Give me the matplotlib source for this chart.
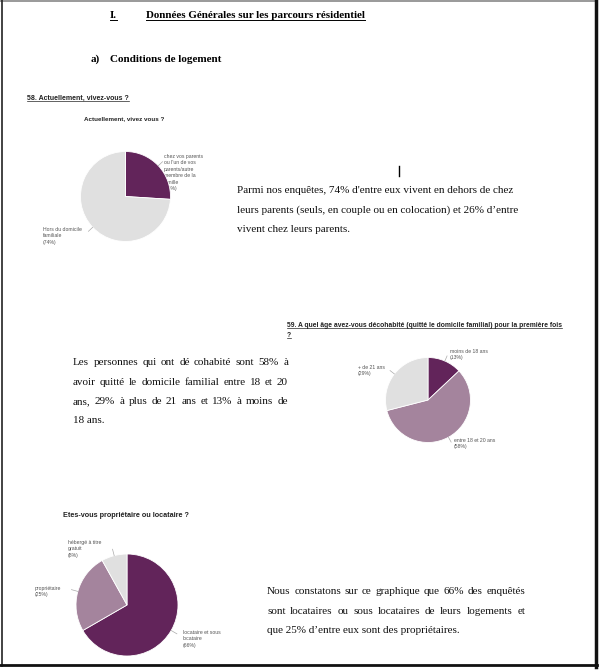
import matplotlib
matplotlib.use('Agg')
import matplotlib.pyplot as plt
import numpy as np
from matplotlib.lines import Line2D

W, H = 599, 671

# ---------------- data ----------------
q58_labels = ["chez vos parents\nou l'un de vos\nparents/autre\nmembre de la\nfamille",
              "Hors du domicile\nfamiliale"]
q58_values = [26, 74]

q59_labels = ["moins de 18 ans", "entre 18 et 20 ans", "+ de 21 ans"]
q59_values = [13, 58, 29]

q60_labels = ["locataire et sous\nlocataire", "propriétaire", "hébergé à titre\ngratuit"]
q60_values = [66, 25, 8]

DARK = '#62245a'
MAUVE = '#a4849d'
LIGHT = '#e0e0e0'
LBL = '#555555'
SERIF = 'Liberation Serif'
SANS = 'Liberation Sans'
BODY = 8.0

fig = plt.figure(figsize=(W / 100, H / 100), dpi=100)
fig.patch.set_facecolor('white')
renderer = fig.canvas.get_renderer()


def fx(x):
    return x / W


def fy(y):
    return 1 - y / H


def line_px(x0, y0, x1, y1, **kw):
    fig.add_artist(Line2D([fx(x0), fx(x1)], [fy(y0), fy(y1)], transform=fig.transFigure, **kw))


def text_px(x, y, s, underline=False, ul_off=2.0, ul_lw=0.7, **kw):
    kw.setdefault('va', 'baseline')
    t = fig.text(fx(x), fy(y), s, **kw)
    if underline:
        bb = t.get_window_extent(renderer)
        yb = y + ul_off
        line_px(bb.x0, yb, bb.x1, yb, color=kw.get('color', 'black'), lw=ul_lw)
    return t


def justified(x, y, width, line, **kw):
    words = line.split(' ')
    texts = [fig.text(0, 0, w, va='baseline', **kw) for w in words]
    widths = [t.get_window_extent(renderer).width for t in texts]
    gap = (width - sum(widths)) / (len(words) - 1)
    cx = x
    for t, w in zip(texts, widths):
        t.set_position((fx(cx), fy(y)))
        cx += w + gap


def pie(cx, cy, r, values, colors, labels, label_pos):
    ax = fig.add_axes([fx(cx - r), fy(cy + r), 2 * r / W, 2 * r / H])
    ax.set_zorder(1)
    wedges, _ = ax.pie(values, colors=colors, startangle=90, counterclock=False, radius=1,
                       wedgeprops=dict(linewidth=0.6, edgecolor='white'))
    ax.set_xlim(-1, 1)
    ax.set_ylim(-1, 1)
    ax.set_aspect('equal')
    ax.axis('off')
    for w, lab, v, (lx, ly) in zip(wedges, labels, values, label_pos):
        ang = np.deg2rad((w.theta1 + w.theta2) / 2)
        c, s = np.cos(ang), np.sin(ang)
        ax.plot([c * 1.0, c * 1.13], [s * 1.0, s * 1.13], color='#aaaaaa', lw=0.5, clip_on=False)
        fig.text(fx(lx), fy(ly), f"{lab}\n({v}%)", ha='left', va='top', fontsize=3.7,
                 color=LBL, family=SANS, linespacing=1.35, zorder=0.5)
    return ax


# ---------------- page frame ----------------
line_px(0, 1.2, 597, 1.2, color='#888888', lw=1.2)
line_px(1.5, 0, 1.5, 666, color='#222222', lw=1.2)
line_px(595.5, 0, 595.5, 667, color='#111111', lw=2.5)
line_px(0, 665, 597, 665, color='#111111', lw=2.0)

# ---------------- headings ----------------
text_px(110, 18, "I.", underline=True, ul_off=1.5, fontsize=7.9, weight='bold', family=SERIF)
text_px(146, 18, "Données Générales sur les parcours résidentiel", underline=True, ul_off=1.5,
        fontsize=7.9, weight='bold', family=SERIF)
text_px(91, 62, "a)", fontsize=8.0, weight='bold', family=SERIF)
text_px(110, 62, "Conditions de logement", fontsize=8.0, weight='bold', family=SERIF)

# ---------------- Q58 ----------------
text_px(27, 100, "58. Actuellement, vivez-vous ?", underline=True, ul_off=1.3, ul_lw=0.5,
        fontsize=5.0, weight='bold', family=SANS, color='#222222')
text_px(124, 120, "Actuellement, vivez vous ?", ha='center', fontsize=4.5, weight='bold',
        family=SANS, color='#222222')
pie(125.5, 196.5, 45, q58_values, [DARK, LIGHT], q58_labels,
    [(164, 154), (43, 227)])

line_px(398.5, 166, 398.5, 176, color='black', lw=1.0)

text_px(237, 193, "Parmi nos enquêtes, 74% d'entre eux vivent en dehors de chez", fontsize=BODY,
        family=SERIF, color='#111111')
text_px(237, 213, "leurs parents (seuls, en couple ou en colocation) et 26% d’entre", fontsize=BODY,
        family=SERIF, color='#111111')
text_px(237, 232, "vivent chez leurs parents.", fontsize=BODY, family=SERIF, color='#111111')

# ---------------- Q59 ----------------
text_px(287, 327, "59. A quel âge avez-vous décohabité (quitté le domicile familial) pour la première fois",
        underline=True, ul_off=1.3, ul_lw=0.5, fontsize=4.9, weight='bold', family=SANS, color='#222222')
text_px(287, 337, "?", underline=True, ul_off=1.3, ul_lw=0.5, fontsize=4.9, weight='bold',
        family=SANS, color='#222222')
pie(428, 400, 42.5, q59_values, [DARK, MAUVE, LIGHT], q59_labels,
    [(450, 349), (454, 438), (358, 365)])

P2 = ["Les personnes qui ont dé cohabité sont 58% à",
      "avoir quitté le domicile familial entre 18 et 20",
      "ans, 29% à plus de 21 ans et 13% à moins de",
      "18 ans."]
for i, (ln, yy) in enumerate(zip(P2, [365, 385, 404, 423])):
    if i < 3:
        justified(73, yy, 215, ln, fontsize=BODY, family=SERIF, color='#111111')
    else:
        text_px(73, yy, ln, fontsize=BODY, family=SERIF, color='#111111')

# ---------------- Q60 ----------------
text_px(63, 517, "Etes-vous propriétaire ou locataire ?", fontsize=5.2, weight='bold', family=SANS,
        color='#222222')
pie(127, 605, 51, q60_values, [DARK, MAUVE, LIGHT], q60_labels,
    [(183, 630), (35, 586), (68, 540)])

P3 = ["Nous constatons sur ce graphique que 66% des enquêtés",
      "sont locataires ou sous locataires de leurs logements et",
      "que 25% d’entre eux sont des propriétaires."]
for i, (ln, yy) in enumerate(zip(P3, [594, 614, 633])):
    if i < 2:
        justified(267, yy, 258, ln, fontsize=BODY, family=SERIF, color='#111111')
    else:
        text_px(267, yy, ln, fontsize=BODY, family=SERIF, color='#111111')

fig.savefig('out.png', dpi=100, facecolor='white')
